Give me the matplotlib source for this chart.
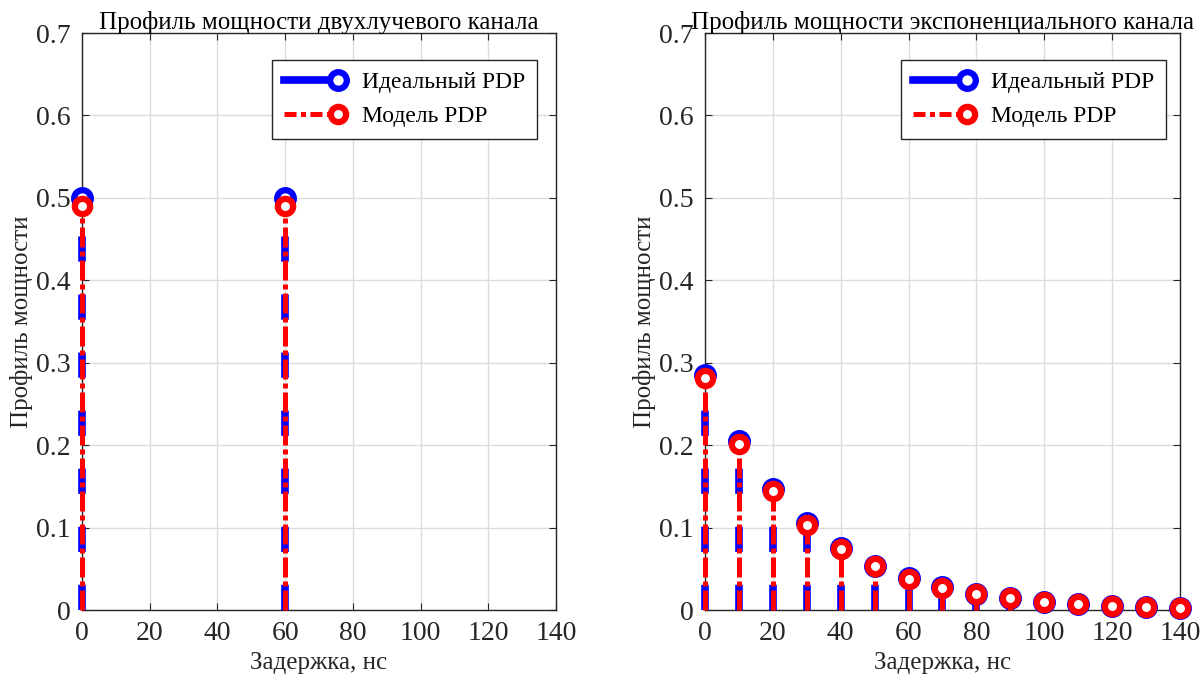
import numpy as np
import matplotlib
matplotlib.use("Agg")
import matplotlib.pyplot as plt
from matplotlib import ticker
from matplotlib.lines import Line2D
from matplotlib.legend_handler import HandlerLine2D

# двухлучевой канал
delay_two = [0, 60]
pdp_two_ideal = [0.5, 0.5]
pdp_two_model = [0.49, 0.49]

# экспоненциальный канал
delay_exp = [0, 10, 20, 30, 40, 50, 60, 70, 80, 90, 100, 110, 120, 130, 140]
pdp_exp_ideal = [0.285, 0.205, 0.147, 0.105, 0.075, 0.054, 0.039, 0.028,
                 0.020, 0.014, 0.010, 0.007, 0.005, 0.004, 0.003]
pdp_exp_model = [0.281, 0.202, 0.145, 0.103, 0.074, 0.053, 0.038, 0.027,
                 0.019, 0.014, 0.010, 0.007, 0.005, 0.004, 0.003]

titles = ['Профиль мощности двухлучевого канала',
          'Профиль мощности экспоненциального канала']
legend_labels = ['Идеальный PDP', 'Модель PDP']

plt.rcParams['font.family'] = ['Liberation Serif', 'DejaVu Serif']

dark = '#262626'
blue_ls = (0, (3.3, 4.3))
red_ls = (0, (4, 0.8, 1, 0.8))


class EndMarkerHandler(HandlerLine2D):
    # маркер в конце линии, как в легенде MATLAB
    def create_artists(self, legend, orig_handle, xdescent, ydescent,
                       width, height, fontsize, trans):
        artists = super().create_artists(legend, orig_handle, xdescent, ydescent,
                                         width, height, fontsize, trans)
        for a in artists:
            x = list(a.get_xdata())
            y = list(a.get_ydata())
            x0 = x[0]
            xe = x[-1] - 0.05 * width
            a.set_data([x0, xe, xe], [y[0]] * 3)
            a.set_markevery([1])
        return artists


fig = plt.figure(figsize=(12.04, 6.8), dpi=100)
ax1 = fig.add_axes([0.0681, 0.1029, 0.3937, 0.8485])
ax2 = fig.add_axes([0.5855, 0.1029, 0.3945, 0.8485])


def draw_pdp(ax, x, ideal, model, title, leg_x):
    st1 = ax.stem(x, ideal, basefmt=' ')
    st1.stemlines.set_color('blue')
    st1.stemlines.set_linewidth(5.5)
    st1.stemlines.set_linestyle(blue_ls)
    st1.markerline.set_marker('o')
    st1.markerline.set_markersize(12)
    st1.markerline.set_markeredgewidth(4.5)
    st1.markerline.set_markeredgecolor('blue')
    st1.markerline.set_markerfacecolor('white')
    st1.markerline.set_zorder(3)
    st1.stemlines.set_zorder(2)

    st2 = ax.stem(x, model, basefmt=' ')
    st2.stemlines.set_color('red')
    st2.stemlines.set_linewidth(3.6)
    st2.stemlines.set_linestyle(red_ls)
    st2.markerline.set_marker('o')
    st2.markerline.set_markersize(11)
    st2.markerline.set_markeredgewidth(4.5)
    st2.markerline.set_markeredgecolor('red')
    st2.markerline.set_markerfacecolor('white')
    st2.markerline.set_zorder(5)
    st2.stemlines.set_zorder(4)

    for art in (st1.stemlines, st1.markerline, st2.stemlines, st2.markerline):
        art.set_clip_on(False)

    ax.set_xlim(0, 140)
    ax.set_ylim(0, 0.7)
    ax.xaxis.set_major_locator(ticker.MultipleLocator(20))
    ax.yaxis.set_major_locator(ticker.MultipleLocator(0.1))
    ax.yaxis.set_major_formatter(ticker.FormatStrFormatter('%g'))
    ax.grid(True, color='#dcdcdc', linewidth=1.0)
    ax.set_axisbelow(True)
    for sp in ax.spines.values():
        sp.set_color(dark)
        sp.set_linewidth(1.0)
        sp.set_zorder(1)
    ax.tick_params(direction='in', top=True, right=True, length=5,
                   width=0.8, color=dark, labelcolor=dark, labelsize=20, pad=8)
    ax.set_title(title, fontsize=18, color='black', pad=3)
    ax.set_xlabel('Задержка, нс', fontsize=18, color=dark, labelpad=4)
    ax.set_ylabel('Профиль мощности', fontsize=18, color=dark, labelpad=2)

    h1 = Line2D([], [], color='blue', linewidth=5.5, linestyle='-',
                marker='o', markersize=12, markeredgewidth=4.5,
                markeredgecolor='blue', markerfacecolor='white')
    h2 = Line2D([], [], color='red', linewidth=3.6, linestyle=(0, (2.4, 0.9, 1, 0.9)),
                marker='o', markersize=11, markeredgewidth=4.5,
                markeredgecolor='red', markerfacecolor='white')
    leg = ax.legend([h1, h2], legend_labels, loc='upper right', fontsize=17,
                    handlelength=2.4, handletextpad=0.9, borderpad=0.5,
                    labelspacing=0.5, fancybox=False, framealpha=1,
                    edgecolor=dark, bbox_to_anchor=(leg_x, 0.953),
                    borderaxespad=0,
                    handler_map={Line2D: EndMarkerHandler()})
    leg.get_frame().set_linewidth(1.0)


draw_pdp(ax1, delay_two, pdp_two_ideal, pdp_two_model, titles[0], 0.96)
draw_pdp(ax2, delay_exp, pdp_exp_ideal, pdp_exp_model, titles[1], 0.97)

fig.savefig('out.png', dpi=100)
